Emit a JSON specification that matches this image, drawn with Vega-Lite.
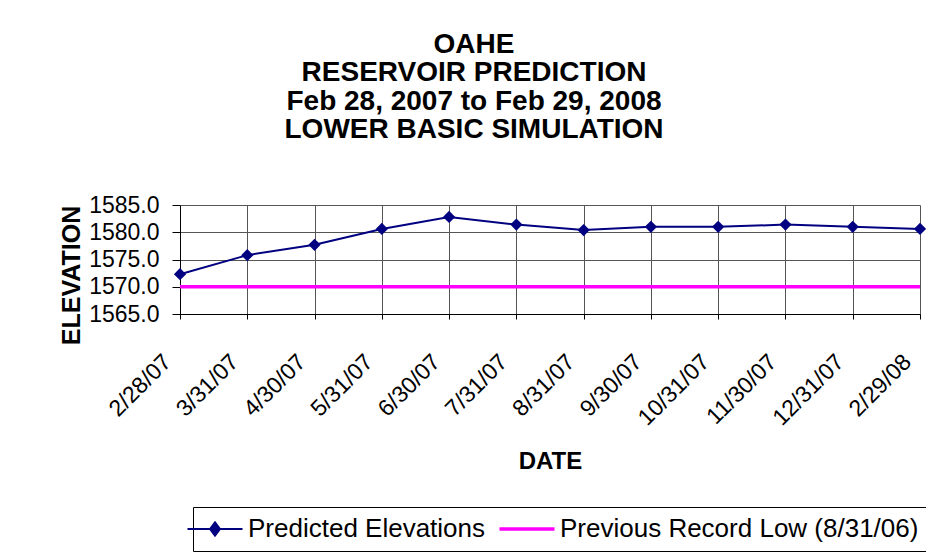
{
  "$schema": "https://vega.github.io/schema/vega-lite/v6.json",
  "width": 740,
  "height": 109,
  "autosize": {"type": "none"},
  "padding": {"left": 180, "top": 205, "right": 6, "bottom": 244},
  "background": "#ffffff",
  "title": {
    "text": ["OAHE", "RESERVOIR PREDICTION", "Feb 28, 2007 to Feb 29, 2008", "LOWER BASIC SIMULATION"],
    "font": "Liberation Sans",
    "fontSize": 28,
    "fontWeight": "bold",
    "lineHeight": 28.5,
    "color": "#000000",
    "anchor": "middle",
    "frame": "group",
    "dx": -76,
    "offset": 50
  },
  "data": {
    "values": [
      {"date": "2/28/07", "series": "Predicted Elevations", "value": 1572.3},
      {"date": "3/31/07", "series": "Predicted Elevations", "value": 1575.8},
      {"date": "4/30/07", "series": "Predicted Elevations", "value": 1577.7},
      {"date": "5/31/07", "series": "Predicted Elevations", "value": 1580.6},
      {"date": "6/30/07", "series": "Predicted Elevations", "value": 1582.8},
      {"date": "7/31/07", "series": "Predicted Elevations", "value": 1581.4},
      {"date": "8/31/07", "series": "Predicted Elevations", "value": 1580.4},
      {"date": "9/30/07", "series": "Predicted Elevations", "value": 1581.0},
      {"date": "10/31/07", "series": "Predicted Elevations", "value": 1581.0},
      {"date": "11/30/07", "series": "Predicted Elevations", "value": 1581.4},
      {"date": "12/31/07", "series": "Predicted Elevations", "value": 1581.0},
      {"date": "2/29/08", "series": "Predicted Elevations", "value": 1580.6},
      {"date": "2/28/07", "series": "Previous Record Low (8/31/06)", "value": 1570.0},
      {"date": "3/31/07", "series": "Previous Record Low (8/31/06)", "value": 1570.0},
      {"date": "4/30/07", "series": "Previous Record Low (8/31/06)", "value": 1570.0},
      {"date": "5/31/07", "series": "Previous Record Low (8/31/06)", "value": 1570.0},
      {"date": "6/30/07", "series": "Previous Record Low (8/31/06)", "value": 1570.0},
      {"date": "7/31/07", "series": "Previous Record Low (8/31/06)", "value": 1570.0},
      {"date": "8/31/07", "series": "Previous Record Low (8/31/06)", "value": 1570.0},
      {"date": "9/30/07", "series": "Previous Record Low (8/31/06)", "value": 1570.0},
      {"date": "10/31/07", "series": "Previous Record Low (8/31/06)", "value": 1570.0},
      {"date": "11/30/07", "series": "Previous Record Low (8/31/06)", "value": 1570.0},
      {"date": "12/31/07", "series": "Previous Record Low (8/31/06)", "value": 1570.0},
      {"date": "2/29/08", "series": "Previous Record Low (8/31/06)", "value": 1570.0}
    ]
  },
  "encoding": {
    "x": {
      "field": "date",
      "type": "ordinal",
      "sort": null,
      "scale": {"type": "point", "padding": 0},
      "axis": {
        "title": "DATE",
        "titleFontSize": 24,
        "titleFontWeight": "bold",
        "titleY": 154,
        "titleBaseline": "alphabetic",
        "labelAngle": -45,
        "labelAlign": "right",
        "labelBaseline": "alphabetic",
        "labelOffset": -8,
        "labelPadding": 44,
        "labelFontSize": 23,
        "labelOverlap": false,
        "labelLimit": 300,
        "tickSize": 5,
        "grid": true
      }
    },
    "y": {
      "field": "value",
      "type": "quantitative",
      "scale": {"domain": [1565, 1585], "nice": false, "zero": false},
      "axis": {
        "title": "ELEVATION",
        "titleFontSize": 25,
        "titleFontWeight": "bold",
        "titleX": -101,
        "titleY": 70,
        "titleBaseline": "alphabetic",
        "titleAlign": "center",
        "values": [1565, 1570, 1575, 1580, 1585],
        "format": ".1f",
        "labelFontSize": 23,
        "labelPadding": 13,
        "tickSize": 8,
        "grid": true
      }
    }
  },
  "layer": [
    {
      "transform": [{"filter": "datum.series === 'Previous Record Low (8/31/06)'"}],
      "mark": {"type": "line", "strokeWidth": 3.5},
      "encoding": {
        "color": {
          "field": "series",
          "type": "nominal",
          "scale": {"domain": ["Predicted Elevations", "Previous Record Low (8/31/06)"], "range": ["#000080", "#FF00FF"]},
          "legend": {
            "title": null,
            "orient": "none",
            "legendX": 13,
            "legendY": 302,
            "direction": "horizontal",
            "strokeColor": "#000000",
            "padding": 9,
            "labelFontSize": 26,
            "labelOffset": 20,
            "columnPadding": 6,
            "symbolSize": 3025,
            "labelLimit": 500,
            "encode": {
              "symbols": {
                "update": {
                  "shape": {"signal": "datum.value === 'Predicted Elevations' ? 'M-1,0L1,0M0,-0.24L0.18,0L0,0.24L-0.18,0Z' : 'stroke'"},
                  "fill": {"signal": "datum.value === 'Predicted Elevations' ? '#000080' : '#FF00FF'"},
                  "stroke": {"signal": "datum.value === 'Predicted Elevations' ? '#000080' : '#FF00FF'"},
                  "strokeWidth": {"signal": "datum.value === 'Predicted Elevations' ? 2 : 3.5"},
                  "opacity": {"value": 1},
                  "fillOpacity": {"value": 1}
                }
              }
            }
          }
        }
      }
    },
    {
      "transform": [{"filter": "datum.series === 'Predicted Elevations'"}],
      "mark": {"type": "line", "strokeWidth": 2},
      "encoding": {
        "color": {"field": "series", "type": "nominal"}
      }
    },
    {
      "transform": [{"filter": "datum.series === 'Predicted Elevations'"}],
      "mark": {"type": "point", "shape": "diamond", "filled": true, "size": 150, "color": "#000080", "opacity": 1}
    }
  ],
  "config": {
    "font": "Liberation Sans",
    "view": {"stroke": null},
    "axis": {
      "labelColor": "#000000",
      "titleColor": "#000000",
      "domainColor": "#000000",
      "tickColor": "#000000",
      "gridColor": "#555555",
      "gridOpacity": 1,
      "gridWidth": 1,
      "labelFont": "Liberation Sans",
      "titleFont": "Liberation Sans"
    },
    "legend": {
      "labelColor": "#000000",
      "labelFont": "Liberation Sans"
    }
  }
}
